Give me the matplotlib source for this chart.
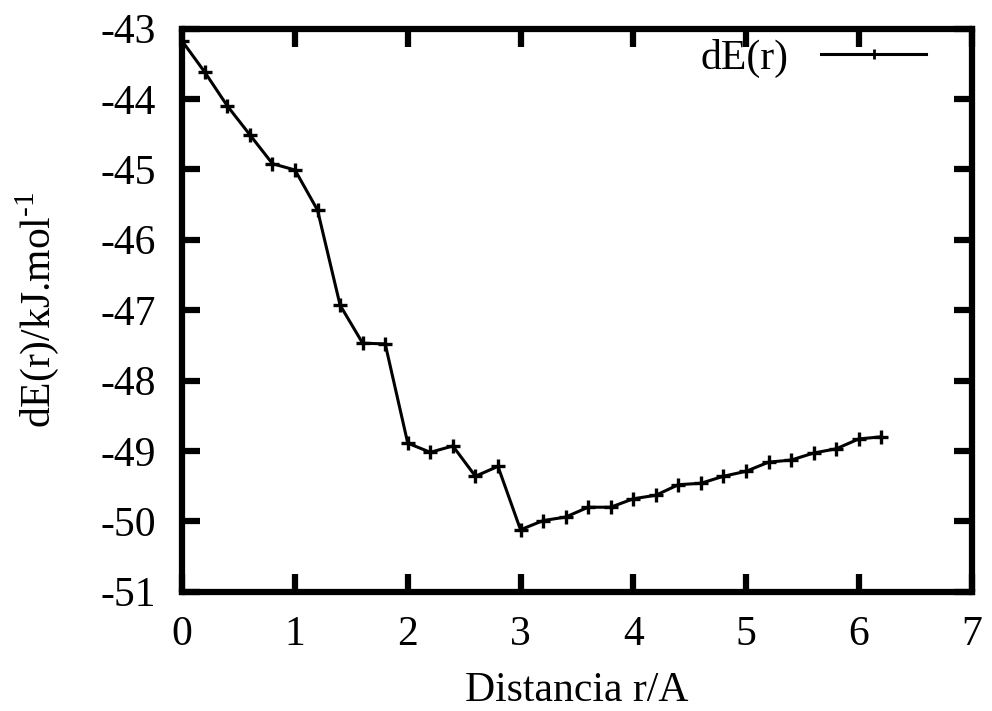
import matplotlib
matplotlib.use("Agg")
import matplotlib.pyplot as plt

# Interaction energy vs. distance
distance = [0.0, 0.2, 0.4, 0.6, 0.8, 1.0, 1.2, 1.4, 1.6, 1.8,
            2.0, 2.2, 2.4, 2.6, 2.8, 3.0, 3.2, 3.4, 3.6, 3.8,
            4.0, 4.2, 4.4, 4.6, 4.8, 5.0, 5.2, 5.4, 5.6, 5.8,
            6.0, 6.2]
energy = [-43.18, -43.62, -44.10, -44.51, -44.92, -45.01, -45.58, -46.93, -47.47, -47.48,
          -48.89, -49.02, -48.93, -49.36, -49.22, -50.12, -49.99, -49.94, -49.80, -49.80,
          -49.68, -49.63, -49.48, -49.46, -49.36, -49.29, -49.16, -49.13, -49.03, -48.97,
          -48.83, -48.80]
x_ticks = [0, 1, 2, 3, 4, 5, 6, 7]
y_ticks = [-51, -50, -49, -48, -47, -46, -45, -44, -43]

plt.rcParams["font.family"] = ["Liberation Serif", "DejaVu Serif"]
plt.rcParams["mathtext.fontset"] = "custom"
plt.rcParams["mathtext.rm"] = "Liberation Serif"

FS = 30

fig = plt.figure(figsize=(9.92, 7.11), dpi=100)
ax = fig.add_axes([0.1837, 0.1678, 0.7957, 0.7921])

ax.plot(distance, energy, color="black", lw=2.2, marker="+",
        markersize=10, markeredgewidth=2.4, label="dE(r)")

ax.set_xlim(0, 7)
ax.set_ylim(-51, -43)
ax.set_xticks(x_ticks)
ax.set_yticks(y_ticks)
ax.set_xticklabels([str(t) for t in x_ticks])
ax.set_yticklabels([str(t) for t in y_ticks])

for s in ax.spines.values():
    s.set_linewidth(4.5)
ax.tick_params(direction="in", length=13, width=4.5, labelsize=FS,
               top=True, right=True)
ax.tick_params(axis="x", pad=17)
ax.tick_params(axis="y", pad=19)

ax.set_xlabel("Distancia r/A", fontsize=FS, labelpad=13)
ax.set_ylabel(r"dE(r)/kJ.mol$^{\text{-1}}$", fontsize=FS, labelpad=28)

leg = ax.legend(loc="upper right", frameon=False, fontsize=FS,
                markerfirst=False, handlelength=2.5, borderaxespad=0.05,
                borderpad=0.2, handletextpad=0.8)
leg.set_bbox_to_anchor((0.955, 1.0), transform=ax.transAxes)
for h in leg.legend_handles:
    h.set_markersize(7)
    h.set_markeredgewidth(2.0)
    h.set_linewidth(2.2)

fig.savefig("out.png", dpi=100)
